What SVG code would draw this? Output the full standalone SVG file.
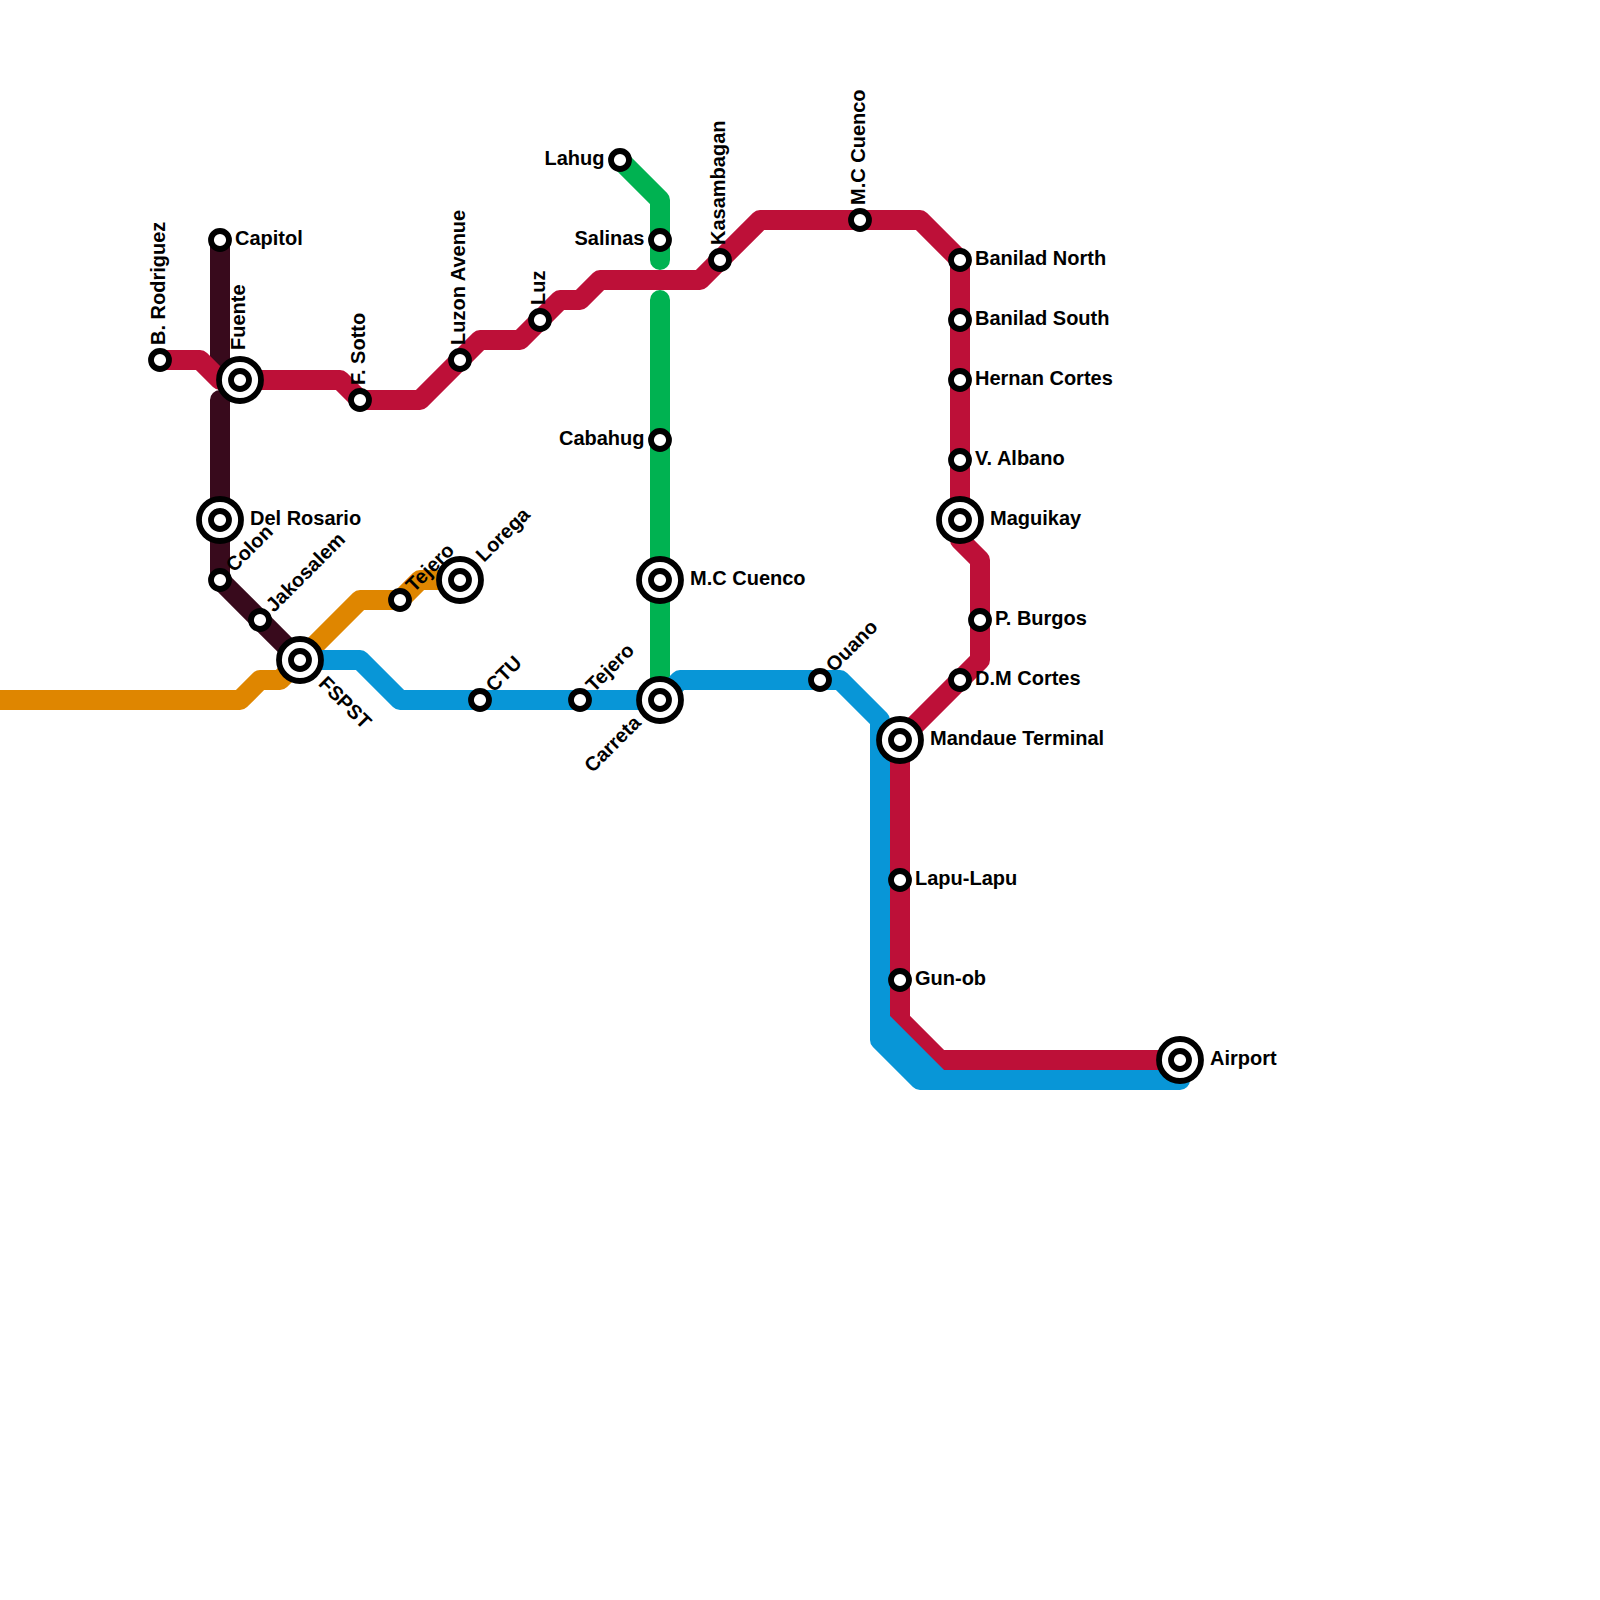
<svg xmlns="http://www.w3.org/2000/svg" width="1600" height="1600" viewBox="0 0 1600 1600">
<style>
text{font-family:"Liberation Sans",Arial,sans-serif;font-weight:700;font-size:20px;fill:#000}
.e{text-anchor:end}
.line{fill:none;stroke-width:20;stroke-linecap:round;stroke-linejoin:round}
.o{stroke:#df8600}.r{stroke:#bd1038}.b{stroke:#0896d7}.g{stroke:#00b251}.d{stroke:#380a1c}
.s{fill:#fff;stroke:#000;stroke-width:5.8}
</style>
<defs>
<circle id="st" class="s" r="9"/>
<g id="ix"><circle class="s" r="21"/><circle class="s" r="9"/></g>
</defs>
<rect width="1600" height="1600" fill="#fff"/>
<g id="connectors">
<path class="line d" d="M220,240V360M220,400V580L300,660"/>
<path class="line o" d="M-20,700H240L260,680H280L300,660L360,600H400L420,580H460"/>
<path class="line g" d="M620,160L660,200V260M660,300V700"/>
<path class="line r" d="M160,360H200L220,380H340L360,400H420L480,340H520L560,300H580L600,280H700L760,220H920L960,260V540L980,560V660L960,680L900,740V1020L940,1060H1180"/>
<path class="line b" d="M300,660H360L400,700H660L680,680H840L880,720V1040L920,1080H1180V1060M880,1020L940,1080"/>
</g>
<g id="n-rodriguez"><use href="#st" x="160" y="360"/><text transform="translate(164.5,345) rotate(-90)">B. Rodriguez</text></g>
<g id="n-capitol"><use href="#st" x="220" y="240"/><text x="235" y="244.5">Capitol</text></g>
<g id="n-fuente"><use href="#ix" x="240" y="380"/><text transform="translate(244.5,350) rotate(-90)">Fuente</text></g>
<g id="n-sotto"><use href="#st" x="360" y="400"/><text transform="translate(364.5,385) rotate(-90)">F. Sotto</text></g>
<g id="n-luzon"><use href="#st" x="460" y="360"/><text transform="translate(464.5,345) rotate(-90)">Luzon Avenue</text></g>
<g id="n-luz"><use href="#st" x="540" y="320"/><text transform="translate(544.5,305) rotate(-90)">Luz</text></g>
<g id="n-lahug"><use href="#st" x="620" y="160"/><text class="e" x="604.5" y="164.5">Lahug</text></g>
<g id="n-salinas"><use href="#st" x="660" y="240"/><text class="e" x="644.5" y="244.5">Salinas</text></g>
<g id="n-cabahug"><use href="#st" x="660" y="440"/><text class="e" x="644.5" y="444.5">Cabahug</text></g>
<g id="n-mc1"><use href="#ix" x="660" y="580"/><text x="690" y="584.5">M.C Cuenco</text></g>
<g id="n-carreta"><use href="#ix" x="660" y="700"/><text class="e" transform="translate(642,724) rotate(-45)">Carreta</text></g>
<g id="n-kasambagan"><use href="#st" x="720" y="260"/><text transform="translate(724.5,245) rotate(-90)">Kasambagan</text></g>
<g id="n-mc2"><use href="#st" x="860" y="220"/><text transform="translate(864.5,205) rotate(-90)">M.C Cuenco</text></g>
<g id="n-ouano"><use href="#st" x="820" y="680"/><text transform="translate(834,673) rotate(-45)">Ouano</text></g>
<g id="n-banilad-n"><use href="#st" x="960" y="260"/><text x="975" y="264.5">Banilad North</text></g>
<g id="n-banilad-s"><use href="#st" x="960" y="320"/><text x="975" y="324.5">Banilad South</text></g>
<g id="n-hernan"><use href="#st" x="960" y="380"/><text x="975" y="384.5">Hernan Cortes</text></g>
<g id="n-albano"><use href="#st" x="960" y="460"/><text x="975" y="464.5">V. Albano</text></g>
<g id="n-maguikay"><use href="#ix" x="960" y="520"/><text x="990" y="524.5">Maguikay</text></g>
<g id="n-burgos"><use href="#st" x="980" y="620"/><text x="995" y="624.5">P. Burgos</text></g>
<g id="n-dm"><use href="#st" x="960" y="680"/><text x="975" y="684.5">D.M Cortes</text></g>
<g id="n-mandaue"><use href="#ix" x="900" y="740"/><text x="930" y="744.5">Mandaue Terminal</text></g>
<g id="n-lapu"><use href="#st" x="900" y="880"/><text x="915" y="884.5">Lapu-Lapu</text></g>
<g id="n-gun"><use href="#st" x="900" y="980"/><text x="915" y="984.5">Gun-ob</text></g>
<g id="n-airport"><use href="#ix" x="1180" y="1060"/><text x="1210" y="1064.5">Airport</text></g>
<g id="n-delrosario"><use href="#ix" x="220" y="520"/><text x="250" y="524.5">Del Rosario</text></g>
<g id="n-colon"><use href="#st" x="220" y="580"/><text transform="translate(234,573) rotate(-45)">Colon</text></g>
<g id="n-jakosalem"><use href="#st" x="260" y="620"/><text transform="translate(274,613) rotate(-45)">Jakosalem</text></g>
<g id="n-fspst"><use href="#ix" x="300" y="660"/><text transform="translate(317.5,684.5) rotate(45)">FSPST</text></g>
<g id="n-tejero1"><use href="#st" x="400" y="600"/><text transform="translate(414,593) rotate(-45)">Tejero</text></g>
<g id="n-lorega"><use href="#ix" x="460" y="580"/><text transform="translate(484,563) rotate(-45)">Lorega</text></g>
<g id="n-ctu"><use href="#st" x="480" y="700"/><text transform="translate(494,693) rotate(-45)">CTU</text></g>
<g id="n-tejero2"><use href="#st" x="580" y="700"/><text transform="translate(594,693) rotate(-45)">Tejero</text></g>
</svg>
